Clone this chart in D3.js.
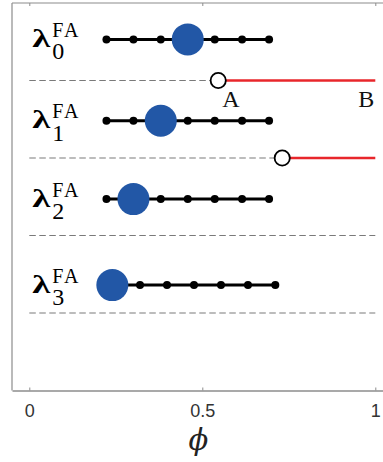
<!DOCTYPE html>
<html>
<head>
<meta charset="utf-8">
<script src="https://cdn.jsdelivr.net/npm/d3@7"></script>
<style>
  html, body { margin: 0; padding: 0; background: #fff; }
  svg { display: block; }
</style>
</head>
<body>
<svg id="chart" width="383" height="462"></svg>
<script>
// φ grid for each λ^FA row (7 grid points per row)
const rowSubscripts = ["0", "1", "2", "3"];
const rowLevels = [4.53, 3.48, 2.47, 1.36];
const gridRow0 = [0.223, 0.301, 0.380, 0.458, 0.536, 0.615, 0.693];
const gridRow1 = [0.223, 0.301, 0.380, 0.458, 0.536, 0.615, 0.693];
const gridRow2 = [0.223, 0.301, 0.380, 0.458, 0.536, 0.615, 0.693];
const gridRow3 = [0.240, 0.320, 0.398, 0.476, 0.554, 0.632, 0.711];
const grids = [gridRow0, gridRow1, gridRow2, gridRow3];
// index of the highlighted (selected) grid point in each row
const selectedIndex = [3, 2, 1, 0];

// separators between rows: dashed part, then a red part starting at an open circle
const separatorLevels = [4, 3, 2, 1];
const thresholdPhi = [0.546, 0.731, null, null];
const phiEnd = 1;

// point labels on the first separator
const pointLabels = ["A", "B"];
const pointLabelPhi = [0.546, 1];

// axis
const phiTicks = [0, 0.5, 1];
const phiTickLabels = ["0", "0.5", "1"];
const phiDomain = [-0.05, 1.05];
const levelDomain = [0, 5];

const svg = d3.select("#chart");
const plotLeft = 12, plotRight = 392.6, plotTop = 3, plotBottom = 390.5;

const x = d3.scaleLinear().domain(phiDomain).range([plotLeft, plotRight]);
const y = d3.scaleLinear().domain(levelDomain).range([plotBottom, plotTop]);

const frame = "#8c8c8c";
const serif = "'Liberation Serif', 'DejaVu Serif', serif";

// frame: left and top edges
svg.append("line").attr("x1", plotLeft).attr("x2", plotLeft).attr("y1", plotTop).attr("y2", plotBottom)
  .attr("stroke", frame).attr("stroke-width", 1.2);
svg.append("line").attr("x1", plotLeft).attr("x2", plotRight).attr("y1", plotTop).attr("y2", plotTop)
  .attr("stroke", frame).attr("stroke-width", 1.2);

// bottom axis with inward ticks
const xAxis = d3.axisBottom(x)
  .tickValues(phiTicks)
  .tickFormat((d, i) => phiTickLabels[i])
  .tickSizeInner(-3).tickSizeOuter(0).tickPadding(14);
const gx = svg.append("g").attr("transform", `translate(0,${plotBottom})`).call(xAxis);
gx.select(".domain").attr("stroke", frame).attr("stroke-width", 1.4);
gx.selectAll(".tick line").attr("stroke", frame).attr("stroke-width", 1);
gx.selectAll(".tick text")
  .attr("fill", "#333")
  .style("font-family", "'Liberation Sans', Arial, sans-serif")
  .style("font-size", "18px");

// top edge ticks (pointing down)
const xTop = d3.axisTop(x).tickValues(phiTicks).tickFormat("").tickSizeInner(-3).tickSizeOuter(0);
const gt = svg.append("g").attr("transform", `translate(0,${plotTop})`).call(xTop);
gt.select(".domain").remove();
gt.selectAll(".tick line").attr("stroke", frame).attr("stroke-width", 1);

// axis title
svg.append("text")
  .attr("x", x(0.5) - 4).attr("y", 450)
  .attr("text-anchor", "middle")
  .style("font-family", "'DejaVu Serif', serif").style("font-style", "italic").style("font-size", "29px")
  .attr("fill", "#222")
  .text("ϕ");

// separators
separatorLevels.forEach((lev, i) => {
  const t = thresholdPhi[i];
  const yy = y(lev);
  svg.append("line")
    .attr("x1", x(0)).attr("x2", x(t == null ? phiEnd : t))
    .attr("y1", yy).attr("y2", yy)
    .attr("stroke", "#7a7a7a").attr("stroke-width", 1.1)
    .attr("stroke-dasharray", "6.5,3.5");
  if (t != null) {
    svg.append("line")
      .attr("x1", x(t)).attr("x2", x(phiEnd))
      .attr("y1", yy).attr("y2", yy)
      .attr("stroke", "#e8262b").attr("stroke-width", 2.6);
    svg.append("circle")
      .attr("cx", x(t)).attr("cy", yy).attr("r", 7.6)
      .attr("fill", "#fff").attr("stroke", "#000").attr("stroke-width", 1.8);
  }
});

// A / B labels
pointLabels.forEach((lab, i) => {
  const p = pointLabelPhi[i];
  svg.append("text")
    .attr("x", i === 0 ? x(p) + 4 : x(p) - 1)
    .attr("y", y(separatorLevels[0]) + 26)
    .attr("text-anchor", i === 0 ? "start" : "end")
    .style("font-family", serif).style("font-size", "24px")
    .attr("fill", "#111")
    .text(lab);
});

// rows
grids.forEach((g, r) => {
  const yy = y(rowLevels[r]);
  const row = svg.append("g");
  row.append("line")
    .attr("x1", x(d3.min(g))).attr("x2", x(d3.max(g)))
    .attr("y1", yy).attr("y2", yy)
    .attr("stroke", "#000").attr("stroke-width", 3);
  row.selectAll("circle.grid")
    .data(g).join("circle")
    .attr("class", "grid")
    .attr("cx", d => x(d)).attr("cy", yy).attr("r", 4)
    .attr("fill", "#000");
  row.append("circle")
    .attr("cx", x(g[selectedIndex[r]])).attr("cy", yy).attr("r", 16)
    .attr("fill", "#2257a6");

  // λ^FA_r label
  const lx = x(0) + 3;
  row.append("text")
    .attr("x", lx).attr("y", yy + 7.5)
    .attr("textLength", 18).attr("lengthAdjust", "spacingAndGlyphs")
    .style("font-family", serif).style("font-weight", "bold").style("font-size", "26px")
    .attr("fill", "#000")
    .text("λ");
  row.append("text")
    .attr("x", lx + 20).attr("y", yy - 2.5)
    .style("font-family", serif).style("font-size", "20px")
    .style("letter-spacing", "2px")
    .attr("fill", "#000")
    .text("FA");
  row.append("text")
    .attr("x", lx + 20).attr("y", yy + 20)
    .style("font-family", serif).style("font-size", "24px")
    .attr("fill", "#000")
    .text(rowSubscripts[r]);
});
</script>
</body>
</html>
